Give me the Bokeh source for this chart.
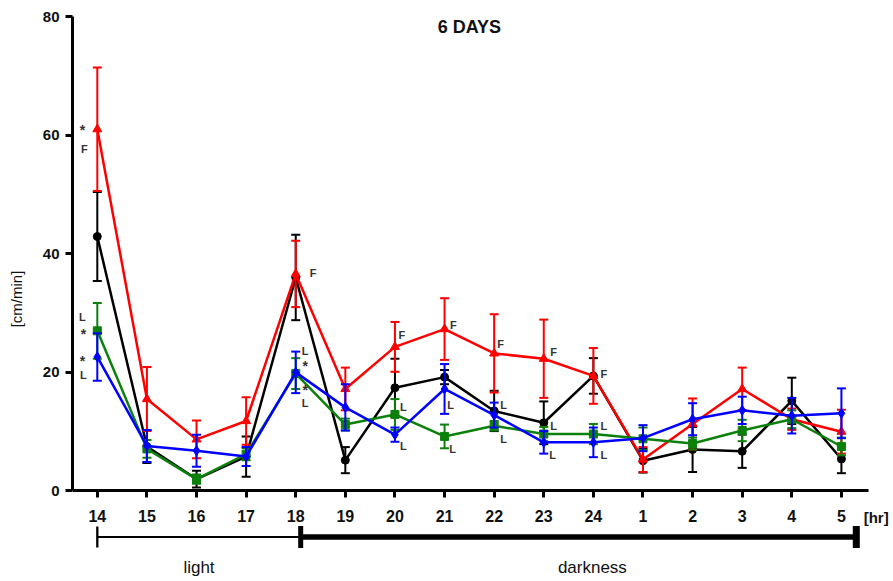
from bokeh.plotting import figure
from bokeh.models import Range1d, LinearAxis, FixedTicker, ColumnDataSource
from bokeh.core.properties import value
from bokeh.embed import file_html
from bokeh.resources import INLINE

# ---------------- data ----------------
hours = ["14", "15", "16", "17", "18", "19", "20", "21", "22", "23", "24",
         "1", "2", "3", "4", "5"]
pos = list(range(len(hours)))

black_mean = [42.9, 7.5, 2.0, 5.8, 36.0, 5.2, 17.4, 19.2, 13.5, 11.5, 19.4, 5.1, 7.0, 6.7, 15.2, 5.4]
black_err = [7.5, 2.8, 1.4, 3.4, 7.2, 2.2, 4.9, 1.2, 3.4, 3.6, 3.0, 2.0, 3.8, 2.8, 3.9, 2.4]

red_mean = [61.0, 15.5, 8.7, 11.8, 36.6, 17.2, 24.3, 27.3, 23.2, 22.3, 19.4, 5.3, 11.3, 17.2, 12.1, 10.0]
red_err = [10.4, 5.4, 3.2, 4.0, 5.6, 3.6, 4.2, 5.2, 6.6, 6.6, 4.7, 2.1, 4.3, 3.6, 1.8, 3.7]

green_mean = [27.0, 7.1, 2.0, 6.2, 19.8, 11.2, 12.9, 9.2, 11.0, 9.6, 9.6, 8.8, 8.0, 10.2, 12.1, 7.5]
green_err = [4.7, 1.5, 0.8, 1.0, 2.6, 1.0, 2.6, 2.0, 0.8, 1.2, 1.7, 1.9, 1.0, 1.8, 1.5, 1.5]

blue_mean = [22.6, 7.6, 6.8, 5.8, 20.0, 14.1, 9.5, 17.2, 12.8, 8.2, 8.2, 8.9, 12.1, 13.6, 12.7, 13.1]
blue_err = [4.0, 2.7, 2.7, 1.6, 3.5, 3.9, 1.2, 4.2, 2.1, 1.9, 2.5, 2.2, 2.7, 2.3, 3.0, 4.2]

y_ticks = [0, 20, 40, 60, 80]

# significance annotations: (category position, offset, y value, text)
ann_pos = [0, 0, 0, 0, 0, 0, 4, 4, 4, 4, 4, 6, 6, 6, 7, 7, 7, 8, 8, 8, 9, 9, 9, 10, 10, 10]
ann_off = [-0.30, -0.26, -0.30, -0.28, -0.30, -0.28,
           0.35, 0.19, 0.19, 0.19, 0.19,
           0.14, 0.17, 0.17,
           0.18, 0.12, 0.16,
           0.13, 0.19, 0.19,
           0.20, 0.20, 0.18,
           0.21, 0.21, 0.21]
ann_y = [60.8, 57.6, 29.3, 26.4, 21.9, 19.5,
         36.7, 23.6, 21.0, 17.0, 14.9,
         26.3, 14.1, 7.6,
         28.0, 14.5, 7.1,
         24.8, 14.5, 8.7,
         23.4, 11.0, 6.1,
         19.7, 11.0, 6.1]
ann_text = ["*", "F", "L", "*", "*", "L",
            "F", "L", "*", "*", "L",
            "F", "L", "L",
            "F", "L", "L",
            "F", "L", "L",
            "F", "L", "L",
            "F", "L", "L"]

# light / darkness periods (in category positions)
light_span = [0.0, 4.1]
dark_span = [4.1, 15.3]
light_label = "light"
dark_label = "darkness"

title_text = "6 DAYS"
x_unit = "[hr]"
y_label = "[cm/min]"

FONT = "Liberation Sans"

# ---------------- figure ----------------
p = figure(width=893, height=581, output_backend="svg", toolbar_location=None,
           x_range=Range1d(-0.5, 16.05), y_range=Range1d(-15.26, 80),
           x_axis_location=None, y_axis_location="left",
           min_border_left=72, min_border_right=0, min_border_top=16, min_border_bottom=0)
p.outline_line_color = None
p.xgrid.visible = False
p.ygrid.visible = False
p.background_fill_color = "white"
p.border_fill_color = "white"

# y axis
ya = p.yaxis[0]
ya.ticker = FixedTicker(ticks=y_ticks)
ya.bounds = (0, 80)
ya.axis_line_width = 3
ya.axis_line_color = "black"
ya.major_tick_line_width = 3
ya.major_tick_out = 7
ya.major_tick_in = 0
ya.minor_tick_line_color = None
ya.major_label_text_font = FONT
ya.major_label_text_font_style = "bold"
ya.major_label_text_font_size = "15px"
ya.major_label_text_color = "#111111"
ya.major_label_standoff = 6
ya.axis_label = y_label
ya.axis_label_text_font = FONT
ya.axis_label_text_font_style = "normal"
ya.axis_label_text_font_size = "15px"
ya.axis_label_text_color = "#111111"
ya.axis_label_standoff = 15

# x axis at y=0
xa = LinearAxis(fixed_location=0)
xa.ticker = FixedTicker(ticks=pos)
xa.major_label_overrides = {i: h for i, h in zip(pos, hours)}
xa.bounds = (-0.5, 15.54)
xa.axis_line_width = 3
xa.major_tick_line_width = 3
xa.major_tick_out = 7
xa.major_tick_in = 0
xa.minor_tick_line_color = None
xa.major_label_text_font = FONT
xa.major_label_text_font_style = "bold"
xa.major_label_text_font_size = "16px"
xa.major_label_text_color = "#111111"
xa.major_label_standoff = 12
p.add_layout(xa, "below")

# series
series = [
    (black_mean, black_err, "black", "circle", 8),
    (red_mean, red_err, "#ff0000", "triangle", 9),
    (green_mean, green_err, "#0b800b", "square", 8),
    (blue_mean, blue_err, "#0000ff", "diamond", 10),
]
for mean, err, col, mk, sz in series:
    lo = [m - e for m, e in zip(mean, err)]
    hi = [m + e for m, e in zip(mean, err)]
    src = ColumnDataSource(dict(x=pos, y=mean, lo=lo, hi=hi))
    p.segment(x0="x", y0="lo", x1="x", y1="hi", source=src, line_color=col, line_width=2)
    p.scatter(x="x", y="lo", source=src, marker="dash", size=9, line_color=col, line_width=2)
    p.scatter(x="x", y="hi", source=src, marker="dash", size=9, line_color=col, line_width=2)
    p.line(x="x", y="y", source=src, line_color=col, line_width=2.5)
    p.scatter(x="x", y="y", source=src, marker=mk, size=sz, fill_color=col, line_color=col)

# annotations (letters and asterisks drawn at slightly different sizes)
for is_star, fsize in ((False, "11px"), (True, "14px")):
    sel = [i for i, t in enumerate(ann_text) if (t == "*") == is_star]
    src = ColumnDataSource(dict(x=[ann_pos[i] + ann_off[i] for i in sel],
                                y=[ann_y[i] for i in sel],
                                t=[ann_text[i] for i in sel]))
    p.text(x="x", y="y", text="t", source=src, text_font=value(FONT), text_font_style="bold",
           text_font_size=value(fsize), text_color="#333333", text_align="center",
           text_baseline="middle")

# title
p.text(x=[7.5], y=[78.2], text=[title_text], text_font=value(FONT), text_font_style="bold",
       text_font_size=value("18px"), text_color="#111111", text_align="center", text_baseline="middle")

# unit label
p.text(x=[15.70], y=[-4.55], text=[x_unit], text_font=value(FONT), text_font_style="bold",
       text_font_size=value("15px"), text_color="#111111", text_align="center", text_baseline="middle")

# light / darkness bars
bar_y = -7.76
p.segment(x0=[light_span[0]], y0=[bar_y], x1=[light_span[1]], y1=[bar_y], line_color="black", line_width=2)
p.segment(x0=[dark_span[0]], y0=[bar_y], x1=[dark_span[1]], y1=[bar_y], line_color="black", line_width=5.5)
p.scatter(x=[light_span[0]], y=[bar_y], marker="dash", angle=1.5708, size=21, line_color="black", line_width=2.3)
p.scatter(x=[dark_span[0]], y=[bar_y], marker="dash", angle=1.5708, size=22, line_color="black", line_width=5)
p.scatter(x=[dark_span[1]], y=[bar_y], marker="dash", angle=1.5708, size=22, line_color="black", line_width=7)

p.text(x=[sum(light_span) / 2, 9.98], y=[-12.95, -12.95], text=[light_label, dark_label],
       text_font=value(FONT), text_font_style="normal", text_font_size=value("17px"),
       text_color="#111111", text_align="center", text_baseline="alphabetic")

open("out.html", "w").write(file_html(p, INLINE))
